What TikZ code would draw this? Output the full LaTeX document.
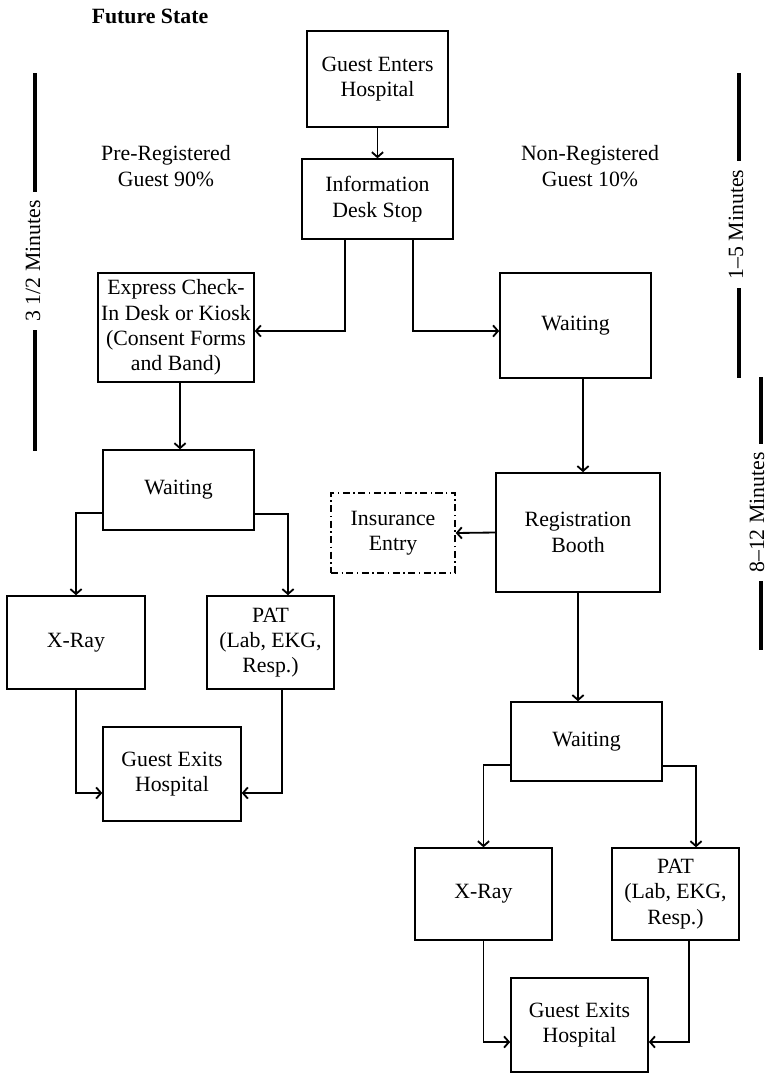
\documentclass[tikz,border=0pt]{standalone}
\usepackage{fontspec}
\setmainfont{Liberation Serif}
\usetikzlibrary{arrows.meta}
\usetikzlibrary{calc}

\tikzset{bx/.style={draw, line width=1pt, align=center, inner sep=2pt}}
\tikzset{ln/.style={line width=1.3pt, -{Straight Barb[length=3.5pt,width=8pt]}}}

\begin{document}
\begin{tikzpicture}[x=0.025cm, y=-0.025cm, font=\fontsize{15.5}{18}\selectfont]
\tikzset{
  dd/.style={bx, dash pattern=on 5pt off 2.5pt on 1pt off 2.5pt},
  bar/.style={line width=2.8pt},
  tm/.style={fill=white, rotate=90, inner xsep=6pt, inner ysep=1pt},
}

\useasboundingbox (0,0) rectangle (769,1074);

% titles
\node[font=\fontsize{15.5}{18}\bfseries] (title) at (150,16) {Future State};
\node[align=center] (pre) at (166,166) {Pre-Registered\\Guest 90\%};
\node[align=center] (non) at (590,166) {Non-Registered\\Guest 10\%};

% top of the flow
\node[bx, minimum width=3.53cm, minimum height=2.4cm] (enter) at (377.5,79) {Guest Enters\\Hospital};
\node[bx, minimum width=3.78cm, minimum height=2cm] (info) at (377.5,199) {Information\\Desk Stop};

% pre-registered branch
\node[bx, minimum width=3.9cm, minimum height=2.73cm] (express) at (176,327.5) {Express Check-\\In Desk or Kiosk\\(Consent Forms\\and Band)};
\node[bx, minimum width=3.78cm, minimum height=2cm] (waitL) at (178.5,490) {Waiting};
\node[bx, minimum width=3.45cm, minimum height=2.33cm] (xrayL) at (76,642.5) {X-Ray};
\node[bx, minimum width=3.18cm, minimum height=2.33cm] (patL) at (270.5,642.5) {PAT\\(Lab, EKG,\\Resp.)};
\node[bx, minimum width=3.45cm, minimum height=2.35cm] (exitL) at (172,774) {Guest Exits\\Hospital};

% non-registered branch
\node[bx, minimum width=3.78cm, minimum height=2.63cm] (waitR) at (575.5,325.5) {Waiting};
\node[bx, minimum width=4.1cm, minimum height=2.98cm] (reg) at (578,532.5) {Registration\\Booth};
\node[dd, minimum width=3.1cm, minimum height=2cm] (ins) at (393,533) {Insurance\\Entry};
\node[bx, minimum width=3.78cm, minimum height=1.98cm] (wait2) at (586.5,741.5) {Waiting};
\node[bx, minimum width=3.43cm, minimum height=2.3cm] (xray2) at (483.5,894) {X-Ray};
\node[bx, minimum width=3.18cm, minimum height=2.3cm] (pat2) at (675.5,894) {PAT\\(Lab, EKG,\\Resp.)};
\node[bx, minimum width=3.43cm, minimum height=2.35cm] (exit2) at (579.5,1025) {Guest Exits\\Hospital};

% connectors
\draw[ln] (enter) -- (info);
\draw[ln] ($(info.south)+(-32.5,0)$) |- ($(express.east)+(0,3.5)$);
\draw[ln] ($(info.south)+(35.5,0)$) |- ($(waitR.west)+(0,5.5)$);

\draw[ln] ($(express.south)+(4,0)$) -- ($(waitL.north)+(1.5,0)$);
\draw[ln] ($(waitL.west)+(0,23)$) -| (xrayL.north);
\draw[ln] ($(waitL.east)+(0,24)$) -| ($(patL.north)+(17.5,0)$);
\draw[ln] (xrayL.south) |- ($(exitL.west)+(0,19)$);
\draw[ln] ($(patL.south)+(11.5,0)$) |- ($(exitL.east)+(0,19)$);

\draw[ln] ($(waitR.south)+(7.5,0)$) -- ($(reg.north)+(5,0)$);
\draw[ln] (reg.west) -- (ins.east);
\draw[ln] (reg.south) -- (reg.south |- wait2.north);
\draw[ln] ($(wait2.west)+(0,23.5)$) -| (xray2.north);
\draw[ln] ($(wait2.east)+(0,24.5)$) -| ($(pat2.north)+(20.5,0)$);
\draw[ln] (xray2.south) |- ($(exit2.west)+(0,17)$);
\draw[ln] ($(pat2.south)+(13.5,0)$) |- ($(exit2.east)+(0,17)$);

% time bars
\coordinate (t1a) at (35,73);
\coordinate (t1b) at (35,451);
\coordinate (t2a) at (739,73);
\coordinate (t2b) at (739,378);
\coordinate (t3a) at (761,377);
\coordinate (t3b) at (761,650);
\draw[bar] (t1a) -- (t1b);
\draw[bar] (t2a) -- (t2b);
\draw[bar] (t3a) -- (t3b);
\node[tm] (m1) at ($(t1a)!0.5!(t1b)+(-2,-1)$) {3 1/2 Minutes};
\node[tm] (m2) at ($(t2a)!0.5!(t2b)+(-3,-1)$) {1--5 Minutes};
\node[tm] (m3) at ($(t3a)!0.5!(t3b)+(-4,-1)$) {8--12 Minutes};
\end{tikzpicture}
\end{document}
